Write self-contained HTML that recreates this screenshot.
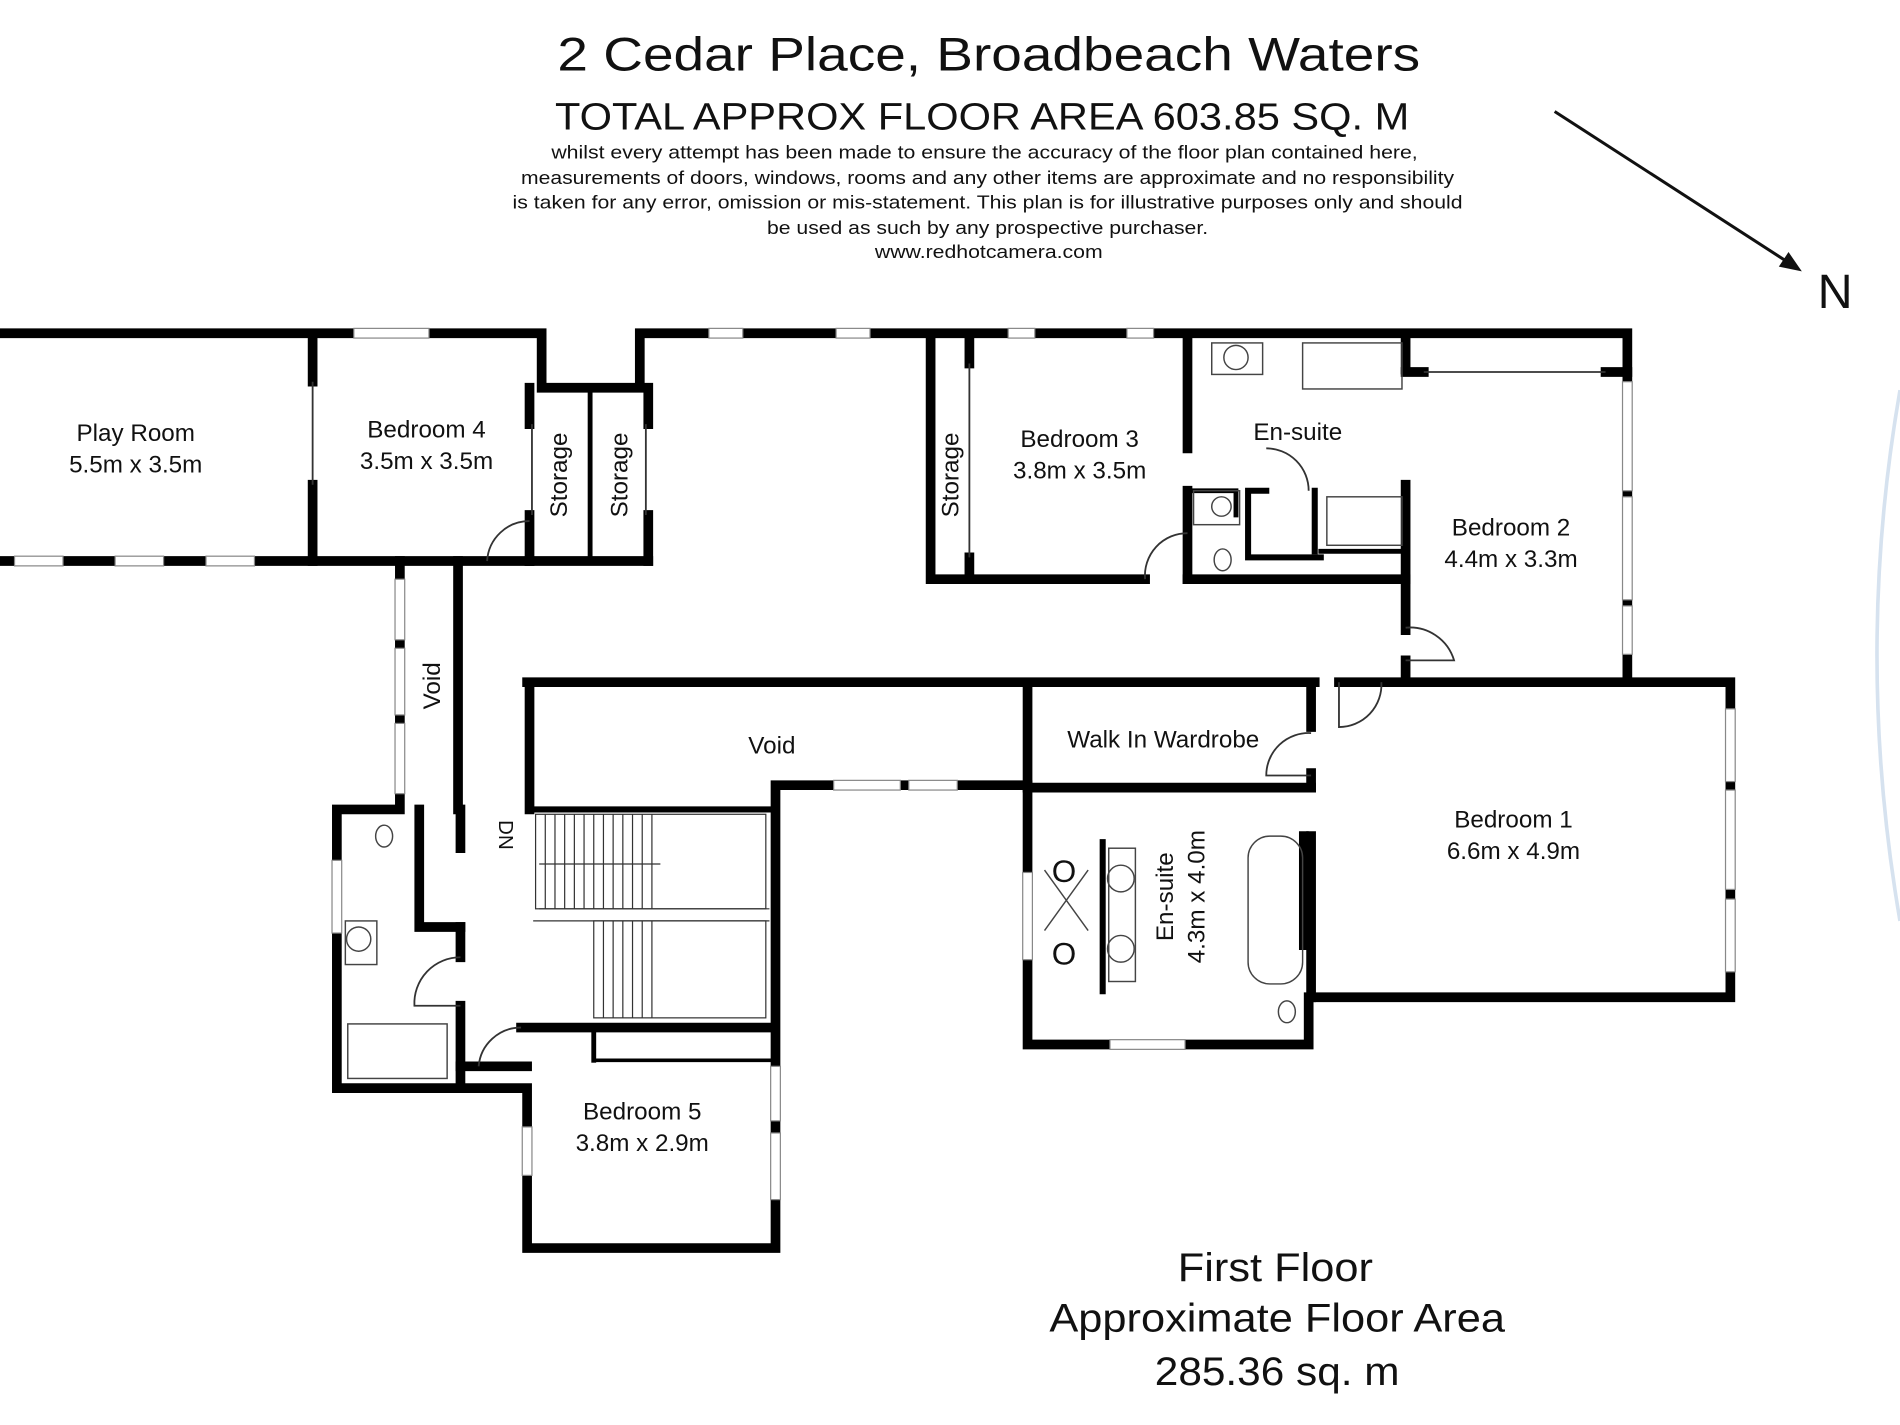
<!DOCTYPE html>
<html><head><meta charset="utf-8"><style>
html,body{margin:0;padding:0;background:#fff;}
svg{display:block;}
text{font-family:"Liberation Sans",Arial,sans-serif;fill:#111;}
</style></head><body>
<svg width="1900" height="1425" viewBox="0 0 1568 1176" xmlns="http://www.w3.org/2000/svg">
<rect width="1568" height="1176" fill="#fff"/>
<!-- header -->
<text x="460" y="58" font-size="39" textLength="712" lengthAdjust="spacingAndGlyphs">2 Cedar Place, Broadbeach Waters</text>
<text x="458" y="107" font-size="31" textLength="705" lengthAdjust="spacingAndGlyphs">TOTAL APPROX FLOOR AREA 603.85 SQ. M</text>
<g font-size="15">
<text x="455" y="131" textLength="715" lengthAdjust="spacingAndGlyphs">whilst every attempt has been made to ensure the accuracy of the floor plan contained here,</text>
<text x="430" y="152" textLength="770" lengthAdjust="spacingAndGlyphs">measurements of doors, windows, rooms and any other items are approximate and no responsibility</text>
<text x="423" y="172" textLength="784" lengthAdjust="spacingAndGlyphs">is taken for any error, omission or mis-statement. This plan is for illustrative purposes only and should</text>
<text x="633" y="193" textLength="364" lengthAdjust="spacingAndGlyphs">be used as such by any prospective purchaser.</text>
<text x="722" y="213" textLength="188" lengthAdjust="spacingAndGlyphs">www.redhotcamera.com</text>
</g>
<line x1="1283" y1="92" x2="1478" y2="218" stroke="#111" stroke-width="2.5"/>
<polygon points="1487,224 1468,220 1476,208" fill="#111"/>
<text x="1500" y="254" font-size="40">N</text>
<path d="M1568,322 Q1530,540 1568,760" stroke="#d6e2ef" stroke-width="3" fill="none"/>

<g stroke="#000" stroke-width="8" fill="none" stroke-linecap="square">
<path d="M0,275 H447 V320 H528 V275 H1343 V563 H1428 V823 H1080 V862 H848 V648 H640 V1030 H435 V898 H278 V668 H330 V463 H0"/>
<line x1="378" y1="463" x2="378" y2="668"/>
<line x1="330" y1="463" x2="437" y2="463"/>
<line x1="258" y1="280" x2="258" y2="315"/>
<line x1="258" y1="400" x2="258" y2="463"/>
<line x1="437" y1="320" x2="437" y2="350"/>
<line x1="437" y1="425" x2="437" y2="463"/>
<line x1="437" y1="463" x2="535" y2="463"/>
<line x1="487" y1="325" x2="487" y2="463" stroke-width="4"/>
<line x1="535" y1="320" x2="535" y2="350"/>
<line x1="535" y1="425" x2="535" y2="463"/>
<path d="M768,280 V478 H945"/>
<line x1="980" y1="478" x2="1160" y2="478"/>
<line x1="800" y1="280" x2="800" y2="300"/>
<line x1="800" y1="460" x2="800" y2="478"/>
<line x1="980" y1="280" x2="980" y2="370"/>
<line x1="980" y1="405" x2="980" y2="478"/>
<line x1="1160" y1="280" x2="1160" y2="305"/>
<line x1="1160" y1="400" x2="1160" y2="520"/>
<line x1="1160" y1="545" x2="1160" y2="563"/>
<line x1="1160" y1="307" x2="1175" y2="307"/>
<line x1="1325" y1="307" x2="1343" y2="307"/>
<path d="M1045,405 H1030 V460 H1090" stroke-width="5"/>
<path d="M985,405 H1020 V425" stroke-width="4"/>
<line x1="1085" y1="405" x2="1085" y2="455" stroke-width="5"/>
<line x1="1090" y1="455" x2="1160" y2="455" stroke-width="4"/>
<line x1="435" y1="563" x2="1085" y2="563"/>
<line x1="1105" y1="563" x2="1343" y2="563"/>
<line x1="437" y1="567" x2="437" y2="668"/>
<line x1="437" y1="668" x2="640" y2="668" stroke-width="5"/>
<line x1="848" y1="567" x2="848" y2="648"/>
<line x1="848" y1="650" x2="1082" y2="650"/>
<line x1="1082" y1="567" x2="1082" y2="600"/>
<line x1="1082" y1="638" x2="1082" y2="650"/>
<line x1="1082" y1="690" x2="1082" y2="823"/>
<path d="M346,668 V765 H380"/>
<line x1="380" y1="668" x2="380" y2="700"/>
<line x1="380" y1="765" x2="380" y2="790"/>
<line x1="380" y1="830" x2="380" y2="898"/>
<line x1="380" y1="880" x2="435" y2="880"/>
<line x1="430" y1="848" x2="635" y2="848"/>
<line x1="490" y1="848" x2="490" y2="875" stroke-width="4"/>
<line x1="490" y1="875" x2="635" y2="875" stroke-width="3"/>
<line x1="910" y1="695" x2="910" y2="818" stroke-width="5"/>
<line x1="1076" y1="690" x2="1076" y2="785" stroke-width="8" stroke-dasharray="10,6"/>
</g>
<g fill="#fff" stroke="#888" stroke-width="1">
<rect x="292" y="271" width="62" height="8"/>
<rect x="585" y="271" width="28" height="8"/><rect x="690" y="271" width="28" height="8"/>
<rect x="832" y="271" width="22" height="8"/><rect x="930" y="271" width="22" height="8"/>
<rect x="12" y="459" width="40" height="8"/><rect x="95" y="459" width="40" height="8"/><rect x="170" y="459" width="40" height="8"/>
<rect x="326" y="478" width="8" height="50"/><rect x="326" y="535" width="8" height="55"/><rect x="326" y="597" width="8" height="58"/>
<rect x="1339" y="315" width="8" height="90"/><rect x="1339" y="410" width="8" height="85"/><rect x="1339" y="500" width="8" height="40"/>
<rect x="1424" y="585" width="8" height="60"/><rect x="1424" y="652" width="8" height="82"/><rect x="1424" y="742" width="8" height="60"/>
<rect x="688" y="644" width="55" height="8"/><rect x="750" y="644" width="40" height="8"/>
<rect x="844" y="720" width="8" height="72"/>
<rect x="916" y="858" width="62" height="8"/>
<rect x="274" y="710" width="8" height="60"/>
<rect x="636" y="880" width="8" height="45"/><rect x="636" y="935" width="8" height="55"/>
<rect x="431" y="930" width="8" height="40"/>
</g>
<g stroke="#333" stroke-width="1.5" fill="none">
<path d="M437,430 A35,35 0 0 0 402,463"/>
<path d="M980,440 A35,35 0 0 0 945,478"/>
<path d="M1045,370 A35,35 0 0 1 1080,405"/>
<path d="M1160,518 A38,38 0 0 1 1200,545 H1160"/>
<path d="M1105,563 V600 A35,35 0 0 0 1140,563"/>
<path d="M1082,605 A35,35 0 0 0 1045,640 H1082"/>
<path d="M380,790 A38,38 0 0 0 342,830 H380"/>
<path d="M430,848 A35,35 0 0 0 395,880"/>
<line x1="258" y1="315" x2="258" y2="400"/>
<line x1="800" y1="300" x2="800" y2="460"/>
<line x1="1175" y1="307" x2="1325" y2="307"/>
<line x1="439" y1="350" x2="439" y2="425"/>
<line x1="533" y1="350" x2="533" y2="425"/>
</g>
<g stroke="#333" stroke-width="1">
<rect x="442" y="672" width="190" height="78" fill="none"/>
<rect x="490" y="760" width="142" height="80" fill="none"/>
<line x1="445" y1="750" x2="635" y2="750"/><line x1="440" y1="760" x2="635" y2="760"/>
<path d="M450,672 V750 M458,672 V750 M466,672 V750 M474,672 V750 M482,672 V750 M490,672 V750 M498,672 V750 M506,672 V750 M514,672 V750 M522,672 V750 M530,672 V750 M538,672 V750"/>
<path d="M498,760 V840 M506,760 V840 M514,760 V840 M522,760 V840 M530,760 V840 M538,760 V840"/>
<line x1="445" y1="713" x2="545" y2="713"/>
</g>
<g stroke="#444" stroke-width="1.2" fill="none">
<rect x="1075" y="283" width="82" height="38"/><rect x="1000" y="283" width="42" height="26"/><circle cx="1020" cy="295" r="10"/>
<rect x="1095" y="410" width="62" height="40"/>
<rect x="985" y="405" width="38" height="28"/><circle cx="1008" cy="418" r="8"/>
<ellipse cx="1009" cy="462" rx="7" ry="9"/>
<rect x="287" y="845" width="82" height="45"/><ellipse cx="296" cy="775" rx="10" ry="10"/><rect x="285" y="760" width="26" height="36"/>
<ellipse cx="317" cy="690" rx="7" ry="9"/>
<rect x="915" y="700" width="22" height="110"/><circle cx="925" cy="725" r="11"/><circle cx="925" cy="783" r="11"/>
<rect x="1030" y="690" width="45" height="122" rx="18"/>
<path d="M862,718 L898,768 M898,718 L862,768"/>
<ellipse cx="1062" cy="835" rx="7" ry="9"/>
</g>
<g><text x="868" y="728" font-size="26">O</text><text x="868" y="796" font-size="26">O</text></g>
<g font-size="20" text-anchor="middle">
<text x="112" y="364">Play Room</text><text x="112" y="390">5.5m x 3.5m</text>
<text x="352" y="361">Bedroom 4</text><text x="352" y="387">3.5m x 3.5m</text>
<text x="891" y="369">Bedroom 3</text><text x="891" y="395">3.8m x 3.5m</text>
<text x="1071" y="363">En-suite</text>
<text x="1247" y="442">Bedroom 2</text><text x="1247" y="468">4.4m x 3.3m</text>
<text x="637" y="622">Void</text>
<text x="960" y="617">Walk In Wardrobe</text>
<text x="1249" y="683">Bedroom 1</text><text x="1249" y="709">6.6m x 4.9m</text>
<text x="530" y="924">Bedroom 5</text><text x="530" y="950">3.8m x 2.9m</text>
<text transform="translate(468,392) rotate(-90)">Storage</text>
<text transform="translate(518,392) rotate(-90)">Storage</text>
<text transform="translate(791,392) rotate(-90)">Storage</text>
<text transform="translate(363,566) rotate(-90)">Void</text>
<text transform="translate(968,740) rotate(-90)">En-suite</text>
<text transform="translate(994,740) rotate(-90)">4.3m x 4.0m</text>
<text transform="translate(412,689) rotate(90)" font-size="17">DN</text>
</g>
<g font-size="33">
<text x="972" y="1057" textLength="161" lengthAdjust="spacingAndGlyphs">First Floor</text>
<text x="866" y="1099" textLength="376" lengthAdjust="spacingAndGlyphs">Approximate Floor Area</text>
<text x="953" y="1143" textLength="202" lengthAdjust="spacingAndGlyphs">285.36 sq. m</text>
</g>
</svg>
</body></html>
